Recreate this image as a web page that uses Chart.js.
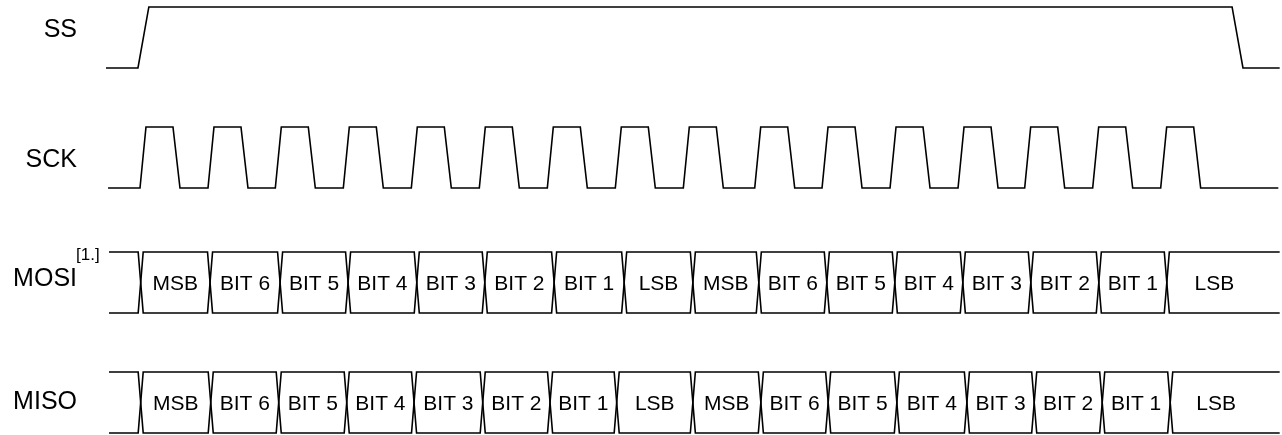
<!DOCTYPE html>
<html>
<head>
<meta charset="utf-8">
<title>SPI timing</title>
<script src="https://cdn.jsdelivr.net/npm/chart.js@4.4.0/dist/chart.umd.min.js"></script>
<style>
  html, body { margin: 0; padding: 0; background: #fff; }
  #wrap { width: 1282px; height: 435px; }
</style>
</head>
<body>
<div id="wrap"><canvas id="spiChart" width="1282" height="435"></canvas></div>
<script>
// time unit = one SCK period, t = 0 at the first rising edge of SCK
const signalNames = ['SS', 'SCK', 'MOSI', 'MISO'];

const ssTimes = [-0.5, -0.03, 0.13, 16.06, 16.22, 16.76];
const ssLevels = [0, 0, 1, 1, 0, 0];

const sckRises = [0, 1, 1.99, 2.99, 3.99, 4.99, 5.99, 6.99, 7.99, 9.04, 10.03, 11.03, 12.03, 13.01, 14.01, 15.01];
const sckSpan = [-0.47, 16.74];

const mosiEdges = [0.01, 1.03, 2.06, 3.06, 4.07, 5.07, 6.09, 7.12, 8.13, 9.10, 10.10, 11.10, 12.10, 13.10, 14.10, 15.10];
const misoEdges = [0.01, 1.04, 2.04, 3.04, 4.03, 5.04, 6.03, 7.01, 8.13, 9.13, 10.12, 11.13, 12.16, 13.15, 14.15, 15.15];
const busSpan = [-0.456, 16.76];

const mosiBits = ['MSB', 'BIT 6', 'BIT 5', 'BIT 4', 'BIT 3', 'BIT 2', 'BIT 1', 'LSB',
                  'MSB', 'BIT 6', 'BIT 5', 'BIT 4', 'BIT 3', 'BIT 2', 'BIT 1', 'LSB'];
const misoBits = ['MSB', 'BIT 6', 'BIT 5', 'BIT 4', 'BIT 3', 'BIT 2', 'BIT 1', 'LSB',
                  'MSB', 'BIT 6', 'BIT 5', 'BIT 4', 'BIT 3', 'BIT 2', 'BIT 1', 'LSB'];
const mosiNote = '[1.]';

// layout: low level of each lane on the y axis, edge shapes
const laneBase = { SS: 5.984, SCK: 4.016, MOSI: 1.967, MISO: 0 };
const sckShape = { rise: 0.088, fallStart: 0.485, fallEnd: 0.588 };
const crossHalf = 0.037;
const lastLabelEnd = 16.5;
const nameRight = 77;
const nameDy = [0, 9.5, 3, 7];
const FONT = '"Liberation Sans", Arial, sans-serif';

const ssPoints = ssTimes.map((t, i) => ({ x: t, y: laneBase.SS + ssLevels[i] }));

const sckPoints = [{ x: sckSpan[0], y: laneBase.SCK }];
sckRises.forEach(r => {
    const lo = laneBase.SCK, hi = laneBase.SCK + 1;
    sckPoints.push({ x: r, y: lo }, { x: r + sckShape.rise, y: hi },
                   { x: r + sckShape.fallStart, y: hi }, { x: r + sckShape.fallEnd, y: lo });
});
sckPoints.push({ x: sckSpan[1], y: laneBase.SCK });

// two zigzag rails per bus: together they give the top/bottom lines and the X crossings
function busRails(edges, base) {
    const top = base + 1, bot = base;
    const a = [{ x: busSpan[0], y: top }], b = [{ x: busSpan[0], y: bot }];
    let aHigh = true;
    edges.forEach(e => {
        a.push({ x: e - crossHalf, y: aHigh ? top : bot }, { x: e + crossHalf, y: aHigh ? bot : top });
        b.push({ x: e - crossHalf, y: aHigh ? bot : top }, { x: e + crossHalf, y: aHigh ? top : bot });
        aHigh = !aHigh;
    });
    a.push({ x: busSpan[1], y: aHigh ? top : bot });
    b.push({ x: busSpan[1], y: aHigh ? bot : top });
    return [a, b];
}

const mosiRails = busRails(mosiEdges, laneBase.MOSI);
const misoRails = busRails(misoEdges, laneBase.MISO);

function wave(label, data) {
    return {
        label: label,
        data: data,
        showLine: true,
        borderColor: '#000',
        borderWidth: 1.6,
        pointRadius: 0,
        pointHoverRadius: 0,
        tension: 0,
        fill: false,
        clip: false
    };
}

const textPlugin = {
    id: 'timingText',
    afterDatasetsDraw(chart) {
        const ctx = chart.ctx;
        const xs = chart.scales.x, ys = chart.scales.y;
        ctx.save();
        ctx.fillStyle = '#000';
        ctx.textBaseline = 'alphabetic';

        // signal names on the left
        ctx.font = '25px ' + FONT;
        ctx.textAlign = 'right';
        signalNames.forEach((name, i) => {
            const y = ys.getPixelForValue(laneBase[name] + 0.5) + nameDy[i];
            ctx.fillText(name, nameRight, y);
        });
        ctx.textAlign = 'left';
        ctx.font = '17px ' + FONT;
        ctx.fillText(mosiNote, nameRight - 1, ys.getPixelForValue(laneBase.MOSI + 0.5) - 23);

        // bit names inside the bus boxes
        ctx.font = '21px ' + FONT;
        ctx.textAlign = 'center';
        [[mosiEdges, mosiBits, laneBase.MOSI], [misoEdges, misoBits, laneBase.MISO]].forEach(([edges, bits, base]) => {
            const y = ys.getPixelForValue(base + 0.5) + 7.5;
            bits.forEach((b, i) => {
                const end = i + 1 < edges.length ? edges[i + 1] : lastLabelEnd;
                ctx.fillText(b, xs.getPixelForValue((edges[i] + end) / 2), y);
            });
        });
        ctx.restore();
    }
};

const ctx = document.getElementById('spiChart').getContext('2d');
const spiChart = new Chart(ctx, {
    type: 'scatter',
    data: {
        datasets: [
            wave('SS', ssPoints),
            wave('SCK', sckPoints),
            wave('MOSI a', mosiRails[0]),
            wave('MOSI b', mosiRails[1]),
            wave('MISO a', misoRails[0]),
            wave('MISO b', misoRails[1])
        ]
    },
    options: {
        responsive: false,
        animation: false,
        devicePixelRatio: 1,
        layout: { padding: 0 },
        plugins: {
            legend: { display: false },
            tooltip: { enabled: false }
        },
        scales: {
            x: { type: 'linear', display: false, min: -2.0588, max: 16.794 },
            y: { type: 'linear', display: false, min: -0.0328, max: 7.098 }
        }
    },
    plugins: [textPlugin]
});
</script>
</body>
</html>
